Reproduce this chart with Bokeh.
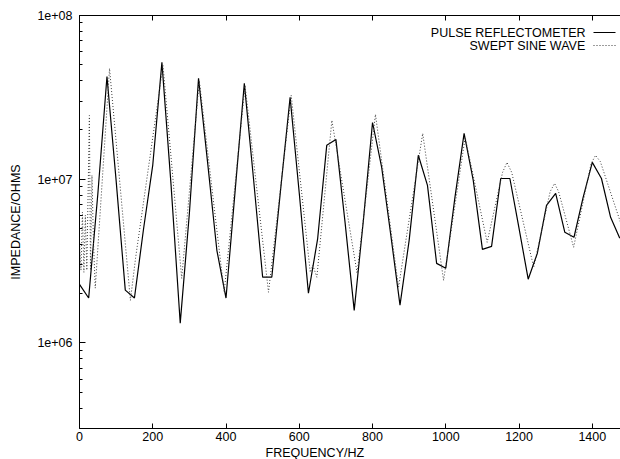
from bokeh.plotting import figure
from bokeh.models import (Range1d, LinearAxis, LogTicker, SingleIntervalTicker,
                          CustomJSTickFormatter, Label, Arrow, Title)
from bokeh.embed import file_html
from bokeh.resources import INLINE

FONT = "Liberation Sans"

# ---- data ----
pulse_freq = [0, 25, 50, 75, 100, 125, 150, 175, 200, 225, 250, 275, 300, 325, 350,
              375, 400, 425, 450, 475, 500, 525, 550, 575, 600, 625, 650, 675, 700,
              725, 750, 775, 800, 825, 850, 875, 900, 925, 950, 975, 1000, 1025,
              1050, 1075, 1100, 1125, 1150, 1175, 1200, 1225, 1250, 1275, 1300,
              1325, 1350, 1375, 1400, 1425, 1450, 1475]
pulse_imp = [2.28e6, 1.88e6, 8.1e6, 4.24e7, 9.8e6, 2.10e6, 1.88e6, 5.0e6, 1.22e7,
             5.17e7, 9.2e6, 1.32e6, 6.2e6, 4.13e7, 1.25e7, 3.68e6, 1.88e6, 8.55e6,
             3.85e7, 1.01e7, 2.52e6, 2.52e6, 9.05e6, 3.16e7, 8.2e6, 2.01e6, 4.3e6,
             1.61e7, 1.75e7, 5.45e6, 1.58e6, 5.6e6, 2.22e7, 1.18e7, 4.54e6, 1.70e6,
             4.23e6, 1.40e7, 9.17e6, 3.06e6, 2.86e6, 7.75e6, 1.905e7, 9.84e6,
             3.73e6, 3.89e6, 1.01e7, 1.01e7, 5.0e6, 2.45e6, 3.53e6, 6.92e6, 8.2e6,
             4.74e6, 4.42e6, 7.75e6, 1.267e7, 1.01e7, 5.85e6, 4.36e6]

sine_freq = [0, 4, 8, 12, 16, 20, 27, 30, 34, 38, 43, 82, 139, 153, 228, 279, 327,
             395, 452, 516, 578, 630, 637, 648, 689, 758, 808, 871, 937, 994, 1053,
             1113, 1155, 1167, 1180, 1240, 1285, 1297, 1308, 1349, 1397, 1409, 1422,
             1477]
sine_imp = [4.23e6, 2.78e6, 6.28e6, 2.70e6, 6.02e6, 2.78e6, 2.45e7, 2.78e6, 1.056e7,
            4.23e6, 2.16e6, 4.75e7, 1.82e6, 3.29e6, 4.95e7, 2.48e6, 4.01e7, 2.04e6,
            3.74e7, 2.04e6, 3.25e7, 2.70e6, 2.98e6, 2.52e6, 2.29e7, 2.66e6, 2.49e7,
            2.19e6, 1.905e7, 2.41e6, 1.80e7, 4.12e6, 1.1e7, 1.267e7, 1.1e7, 2.90e6,
            8.4e6, 9.43e6, 8.4e6, 3.84e6, 1.25e7, 1.398e7, 1.28e7, 5.45e6]

series_names = ["PULSE REFLECTOMETER", "SWEPT SINE WAVE"]
x_title = "FREQUENCY/HZ"
y_title = "IMPEDANCE/OHMS"

p = figure(width=620, height=459, y_axis_type="log",
           x_range=Range1d(0, 1477), y_range=Range1d(3e5, 1e8),
           output_backend="svg", toolbar_location=None,
           min_border_left=79, min_border_right=0, min_border_top=15,
           min_border_bottom=31)
p.grid.visible = False
p.outline_line_color = None
p.background_fill_color = "white"
p.border_fill_color = "white"

p.line(pulse_freq, pulse_imp, line_color="black", line_width=1.2)
p.line(sine_freq, sine_imp, line_color="#3a3a3a", line_width=1, line_dash="1 2")

# x axis
xa = p.xaxis[0]
xa.ticker = SingleIntervalTicker(interval=200, num_minor_ticks=0)
xa.major_tick_in = 5
xa.major_tick_out = 0
xa.minor_tick_line_color = None
xa.major_label_standoff = 3
xa.major_label_text_font = FONT
xa.major_label_text_font_size = "12.5px"
xa.major_label_text_color = "black"
xa.axis_line_color = "black"

# x title placed like gnuplot's (left of frame centre)
p.add_layout(Title(text=x_title, align="left", offset=186, standoff=0,
                   vertical_align="bottom", text_font=FONT,
                   text_font_size="12.5px", text_font_style="normal",
                   text_color="black"), "below")

# top mirror axis (ticks only)
top = LinearAxis(ticker=SingleIntervalTicker(interval=200, num_minor_ticks=0),
                 major_tick_in=5, major_tick_out=0, minor_tick_line_color=None,
                 major_label_text_font_size="1px", major_label_text_color=None,
                 major_label_standoff=0, axis_line_color="black")
p.add_layout(top, "above")

# y axis
ya = p.yaxis[0]
ya.ticker = LogTicker(num_minor_ticks=10, mantissas=[1])
ya.formatter = CustomJSTickFormatter(code="""
const e = Math.round(Math.log10(tick));
return '1e+' + (e < 10 ? '0' : '') + e;
""")
ya.major_tick_in = 6
ya.major_tick_out = 0
ya.minor_tick_in = 3
ya.minor_tick_out = 0
ya.major_label_standoff = 7
ya.major_label_text_font = FONT
ya.major_label_text_font_size = "12.5px"
ya.major_label_text_color = "black"
ya.axis_line_color = "black"
ya.axis_label = y_title
ya.axis_label_text_font = FONT
ya.axis_label_text_font_size = "12.5px"
ya.axis_label_text_font_style = "normal"
ya.axis_label_text_color = "black"
ya.axis_label_standoff = 11

# legend (text left of sample, as in the reference)
for i, (name, dash) in enumerate(zip(series_names, ["solid", "1 2"])):
    yy = 396 - 13 * i
    p.add_layout(Label(x=506, y=yy, x_units="screen", y_units="screen",
                       text=name, text_align="right", text_baseline="middle",
                       text_font=FONT, text_font_size="12.5px", text_color="black"))
    p.add_layout(Arrow(x_start=514, y_start=yy, x_end=536, y_end=yy,
                       start_units="screen", end_units="screen", end=None,
                       line_color="black" if i == 0 else "#3a3a3a",
                       line_width=1.2 if i == 0 else 1, line_dash=dash))

open("out.html", "w").write(file_html(p, INLINE))
